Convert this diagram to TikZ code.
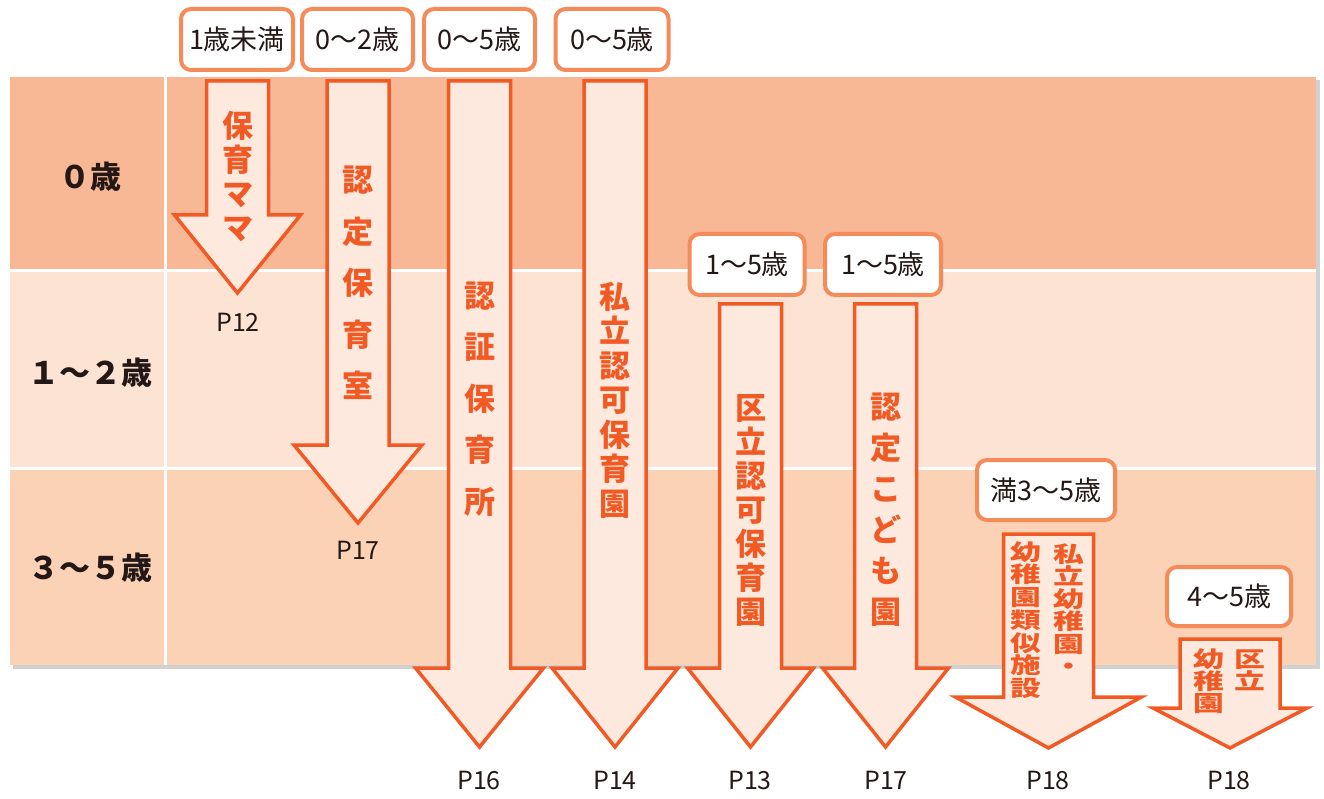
\documentclass[tikz,border=0pt]{standalone}
\usepackage{fontspec}
\usepackage{graphicx}
\newfontfamily\cjk{Noto Sans CJK JP}
\definecolor{rowA}{HTML}{F9B895}
\definecolor{rowB}{HTML}{FDE3D3}
\definecolor{rowC}{HTML}{FCD2B6}
\definecolor{aorange}{HTML}{F15A24}
\definecolor{afill}{HTML}{FDE9DD}
\definecolor{torange}{HTML}{F68B5A}
\definecolor{tdark}{HTML}{231815}
\newcommand{\downarrowshape}[7]{%
  \path[arr] (#1-#2,#3) -- (#1+#2,#3) -- (#1+#2,#4) -- (#1+#5,#4) -- (#1,#6) -- (#1-#5,#4) -- (#1-#2,#4) -- cycle;}
\newcommand{\widecol}[1]{\scalebox{1.4}[1]{\vbox{\lineskiplimit=-100pt\lineskip=0pt\halign{\hfil##\hfil\cr#1\crcr}}}}
\begin{document}
\begin{tikzpicture}[x=1pt,y=-1pt,
  arr/.style={draw=aorange, line width=3.5pt, fill=afill, line join=miter},
  tagbox/.style={draw=torange, line width=4pt, fill=white, rounded corners=10pt, inner sep=0pt, font=\cjk\fontsize{27}{27}\selectfont, text=tdark},
  plabel/.style={font=\cjk\fontsize{25}{25}\selectfont, text=tdark},
  agelabel/.style={font=\cjk\bfseries\fontsize{31}{31}\selectfont, text=tdark},
  vtext/.style={font=\cjk\bfseries\fontsize{31}{#1}\selectfont, text=aorange, align=center, inner sep=0pt},
  vsmall/.style={font=\cjk\bfseries\fontsize{22}{#1}\selectfont, text=aorange, inner sep=0pt},
  sep/.style={draw=white, line width=3pt}]
\useasboundingbox (0,0) rectangle (1324,799);
% panel
\fill[black!18] (13,80) rectangle (1320,669);
\fill[rowA] (10,77) rectangle (1316,271);
\fill[rowB] (10,271) rectangle (1316,468);
\fill[rowC] (10,468) rectangle (1316,665);
\draw[sep] (10,271) -- (1316,271);
\draw[sep] (10,468) -- (1316,468);
\draw[sep] (165,77) -- (165,665);
% age labels
\node[agelabel] (age0) at (90,177) {０歳};
\node[agelabel] (age1) at (90,373) {１～２歳};
\node[agelabel] (age2) at (90,568) {３～５歳};
% arrows
\downarrowshape{237.5}{31}{81}{215}{63}{293}{}
\downarrowshape{358}{31}{81}{445}{64}{523}{}
\downarrowshape{479.5}{31}{81}{668}{64}{747}{}
\downarrowshape{615}{31}{81}{668}{63}{747}{}
\downarrowshape{750.5}{31}{304}{668}{63}{747}{}
\downarrowshape{885.5}{31}{304}{668}{63}{747}{}
\downarrowshape{1048.5}{45}{534}{697}{93}{748}{}
\downarrowshape{1230}{50}{639}{708}{77}{748}{}
% tags
\node[tagbox, minimum width=112pt, minimum height=61pt] (t1) at (237,39.5) {1歳未満};
\node[tagbox, minimum width=111pt, minimum height=61pt] (t2) at (357.5,39.5) {0～2歳};
\node[tagbox, minimum width=111pt, minimum height=61pt] (t3) at (479.5,39.5) {0～5歳};
\node[tagbox, minimum width=113pt, minimum height=61pt] (t4) at (612,39.5) {0～5歳};
\node[tagbox, minimum width=115pt, minimum height=61pt] (t5) at (747,264.5) {1～5歳};
\node[tagbox, minimum width=116pt, minimum height=61pt] (t6) at (883,264.5) {1～5歳};
\node[tagbox, minimum width=138pt, minimum height=60pt] (t7) at (1046,490) {満3～5歳};
\node[tagbox, minimum width=124pt, minimum height=59pt] (t8) at (1229,596.5) {4～5歳};
% arrow texts
\node[vtext=34] (n1) at (237.5,176) {保\\育\\マ\\マ};
\node[vtext=51.5] (n2) at (358,283) {認\\定\\保\\育\\室};
\node[vtext=51.5] (n3) at (479.5,399) {認\\証\\保\\育\\所};
\node[vtext=34.5] (n4) at (615,400) {私\\立\\認\\可\\保\\育\\園};
\node[vtext=34] (n5) at (750.5,510) {区\\立\\認\\可\\保\\育\\園};
\node[vtext=41] (n6) at (885.5,510) {認\\定\\こ\\ど\\も\\園};
\node[vsmall=22.5] (n7a) at (1069,609) {\widecol{私\cr 立\cr 幼\cr 稚\cr 園\cr ・}};
\node[vsmall=22.7] (n7b) at (1026,620) {\widecol{幼\cr 稚\cr 園\cr 類\cr 似\cr 施\cr 設}};
\node[vsmall=22] (n8a) at (1250,670) {\widecol{区\cr 立}};
\node[vsmall=22] (n8b) at (1209,681) {\widecol{幼\cr 稚\cr 園}};
% page labels
\node[plabel] (p1) at (238,322) {P12};
\node[plabel] (p2) at (358,550) {P17};
\node[plabel] (p3) at (479,780) {P16};
\node[plabel] (p4) at (615,780) {P14};
\node[plabel] (p5) at (750,780) {P13};
\node[plabel] (p6) at (886,780) {P17};
\node[plabel] (p7) at (1048,780) {P18};
\node[plabel] (p8) at (1229,780) {P18};
\end{tikzpicture}
\end{document}
